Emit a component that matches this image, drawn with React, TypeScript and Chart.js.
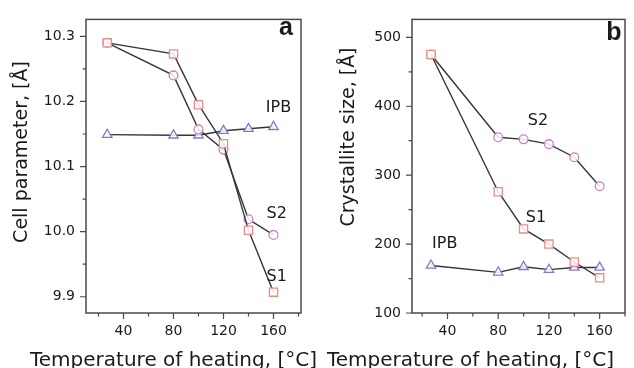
import React, { useEffect, useRef } from "react";
import { Chart, registerables } from "chart.js";

Chart.register(...registerables);

// ---- data ----
const temps = [27, 80, 100, 120, 140, 160];

const cellS1 = [10.29, 10.273, 10.195, 10.135, 10.002, 9.907];
const cellS2 = [10.29, 10.240, 10.157, 10.126, 10.019, 9.995];
const cellIPB = [10.149, 10.148, 10.148, 10.155, 10.158, 10.161];

const sizeS1 = [475, 276, 222, 200, 174, 151];
const sizeS2 = [475, 355, 352, 345, 326, 284];
const sizeIPB = [169, 159, 167, 163, 166, 166];

const xMajor = [40, 80, 120, 160];
const xMinor = [20, 60, 100, 140, 180];
const yMajorA = [9.9, 10.0, 10.1, 10.2, 10.3];
const yMinorA = [9.95, 10.05, 10.15, 10.25];
const yMajorB = [100, 200, 300, 400, 500];
const yMinorB = [150, 250, 350, 450];

const xTitle = "Temperature of heating, [°C]";
const yTitleA = "Cell parameter, [Å]";
const yTitleB = "Crystallite size, [Å]";

// annotation labels (data coordinates)
const labelsA = [
  { text: "IPB", x: 164, y: 10.19 },
  { text: "S2", x: 162.6, y: 10.027 },
  { text: "S1", x: 162.6, y: 9.93 },
];
const labelsB = [
  { text: "S2", x: 111.4, y: 379.5 },
  { text: "S1", x: 109.8, y: 238.7 },
  { text: "IPB", x: 37.8, y: 200.3 },
];

const LINE = "#353535";
const SQ = "#f08a8a";
const CI = "#cc80c4";
const TR = "#7c7ccc";
const FONT = "'DejaVu Sans', sans-serif";

const pts = (ys: number[]) => temps.map((x, i) => ({ x, y: ys[i] }));

function ds(label: string, ys: number[], color: string, style: string, r: number) {
  return {
    label,
    data: pts(ys),
    showLine: true,
    borderColor: LINE,
    borderWidth: 1.4,
    pointStyle: style,
    pointRadius: r,
    pointBorderColor: color,
    pointBackgroundColor: "rgba(255,255,255,0.85)",
    pointBorderWidth: 1.3,
    tension: 0,
  };
}

type PanelCfg = {
  sets: any[];
  xMin: number;
  xMax: number;
  yMin: number;
  yMax: number;
  yMajor: number[];
  yMinor: number[];
  yFmt: (v: number) => string;
  yTitle: string;
  yTitleX: number;
  yTitleY: number;
  xTitleX: number;
  letter: string;
  letterX: number;
  letterY: number;
  labels: { text: string; x: number; y: number }[];
  yAxisWidth: number;
  padRight: number;
  width: number;
};

function makeConfig(p: PanelCfg) {
  const deco = {
    id: "deco",
    afterDatasetsDraw(chart: any) {
      const { ctx, chartArea: ca, scales } = chart;
      const xs = scales.x;
      const ys = scales.y;
      ctx.save();
      ctx.strokeStyle = "#4a4a4a";
      ctx.lineWidth = 1.5;
      ctx.strokeRect(ca.left, ca.top, ca.right - ca.left, ca.bottom - ca.top);
      ctx.lineWidth = 1.2;
      ctx.beginPath();
      const tickX = (v: number, len: number) => {
        const px = xs.getPixelForValue(v);
        ctx.moveTo(px, ca.bottom);
        ctx.lineTo(px, ca.bottom + len);
      };
      const tickY = (v: number, len: number) => {
        const py = ys.getPixelForValue(v);
        ctx.moveTo(ca.left, py);
        ctx.lineTo(ca.left - len, py);
      };
      xMajor.forEach((v) => tickX(v, 6));
      xMinor.forEach((v) => tickX(v, 3.5));
      p.yMajor.forEach((v) => tickY(v, 6));
      p.yMinor.forEach((v) => tickY(v, 3.5));
      ctx.stroke();

      ctx.fillStyle = "#1a1a1a";
      // annotations
      ctx.font = `16px ${FONT}`;
      ctx.textAlign = "center";
      ctx.textBaseline = "middle";
      p.labels.forEach((l) => {
        ctx.fillText(l.text, xs.getPixelForValue(l.x), ys.getPixelForValue(l.y));
      });
      // panel letter
      ctx.font = `bold 25px 'Liberation Sans', Arial, sans-serif`;
      ctx.textBaseline = "alphabetic";
      ctx.fillText(p.letter, p.letterX, p.letterY);

      // x title
      ctx.font = `20px ${FONT}`;
      ctx.textAlign = "left";
      ctx.textBaseline = "alphabetic";
      ctx.fillText(xTitle, p.xTitleX, 366);

      // y title
      ctx.font = `19px ${FONT}`;
      ctx.translate(p.yTitleX, p.yTitleY);
      ctx.rotate(-Math.PI / 2);
      ctx.textAlign = "center";
      ctx.textBaseline = "middle";
      ctx.fillText(p.yTitle, 0, 0);
      ctx.restore();
    },
  };

  return {
    type: "scatter" as const,
    data: { datasets: p.sets },
    options: {
      animation: false as const,
      responsive: false,
      devicePixelRatio: 1,
      layout: { padding: { left: 0, top: 14, right: p.padRight, bottom: 0 } },
      plugins: { legend: { display: false }, tooltip: { enabled: false } },
      scales: {
        x: {
          type: "linear" as const,
          min: p.xMin,
          max: p.xMax,
          grid: { display: false, drawTicks: false },
          border: { display: false },
          afterBuildTicks: (s: any) => {
            s.ticks = xMajor.map((v) => ({ value: v }));
          },
          afterFit: (s: any) => {
            s.height = 55;
          },
          ticks: {
            padding: 10,
            maxRotation: 0,
            color: "#1a1a1a",
            font: { family: FONT, size: 14 },
            callback: (v: any) => String(v),
          },
        },
        y: {
          type: "linear" as const,
          min: p.yMin,
          max: p.yMax,
          grid: { display: false, drawTicks: false },
          border: { display: false },
          afterBuildTicks: (s: any) => {
            s.ticks = p.yMajor.map((v) => ({ value: v }));
          },
          afterFit: (s: any) => {
            s.width = p.yAxisWidth;
          },
          ticks: {
            padding: 11,
            color: "#1a1a1a",
            font: { family: FONT, size: 14 },
            callback: (v: any) => p.yFmt(Number(v)),
          },
        },
      },
    },
    plugins: [deco],
  };
}

function Panel({ cfg, left }: { cfg: PanelCfg; left: number }) {
  const ref = useRef<HTMLCanvasElement | null>(null);
  useEffect(() => {
    if (!ref.current) return;
    const chart = new Chart(ref.current, makeConfig(cfg) as any);
    return () => chart.destroy();
  }, []);
  return (
    <canvas
      ref={ref}
      width={cfg.width}
      height={368}
      style={{ position: "absolute", left, top: 0, width: cfg.width, height: 368 }}
    />
  );
}

const panelA: PanelCfg = {
  sets: [
    ds("S1", cellS1, SQ, "rect", 5.8),
    ds("S2", cellS2, CI, "circle", 4.4),
    ds("IPB", cellIPB, TR, "triangle", 5.4),
  ],
  xMin: 10,
  xMax: 182,
  yMin: 9.875,
  yMax: 10.326,
  yMajor: yMajorA,
  yMinor: yMinorA,
  yFmt: (v) => v.toFixed(1),
  yTitle: yTitleA,
  yTitleX: 22,
  yTitleY: 152,
  xTitleX: 30,
  letter: "a",
  letterX: 286,
  letterY: 35,
  labels: labelsA,
  yAxisWidth: 86,
  padRight: 29,
  width: 330,
};

const panelB: PanelCfg = {
  sets: [
    ds("S1", sizeS1, SQ, "rect", 5.8),
    ds("S2", sizeS2, CI, "circle", 4.4),
    ds("IPB", sizeIPB, TR, "triangle", 5.4),
  ],
  xMin: 12,
  xMax: 180,
  yMin: 100,
  yMax: 526,
  yMajor: yMajorB,
  yMinor: yMinorB,
  yFmt: (v) => String(Math.round(v)),
  yTitle: yTitleB,
  yTitleX: 32,
  yTitleY: 137,
  xTitleX: 10,
  letter: "b",
  letterX: 297,
  letterY: 40,
  labels: labelsB,
  yAxisWidth: 95,
  padRight: 9,
  width: 317,
};

export default function App() {
  return (
    <div
      style={{
        position: "fixed",
        left: 0,
        top: 0,
        width: 634,
        height: 368,
        background: "#ffffff",
        overflow: "hidden",
      }}
    >
      <Panel cfg={panelA} left={0} />
      <Panel cfg={panelB} left={317} />
    </div>
  );
}
